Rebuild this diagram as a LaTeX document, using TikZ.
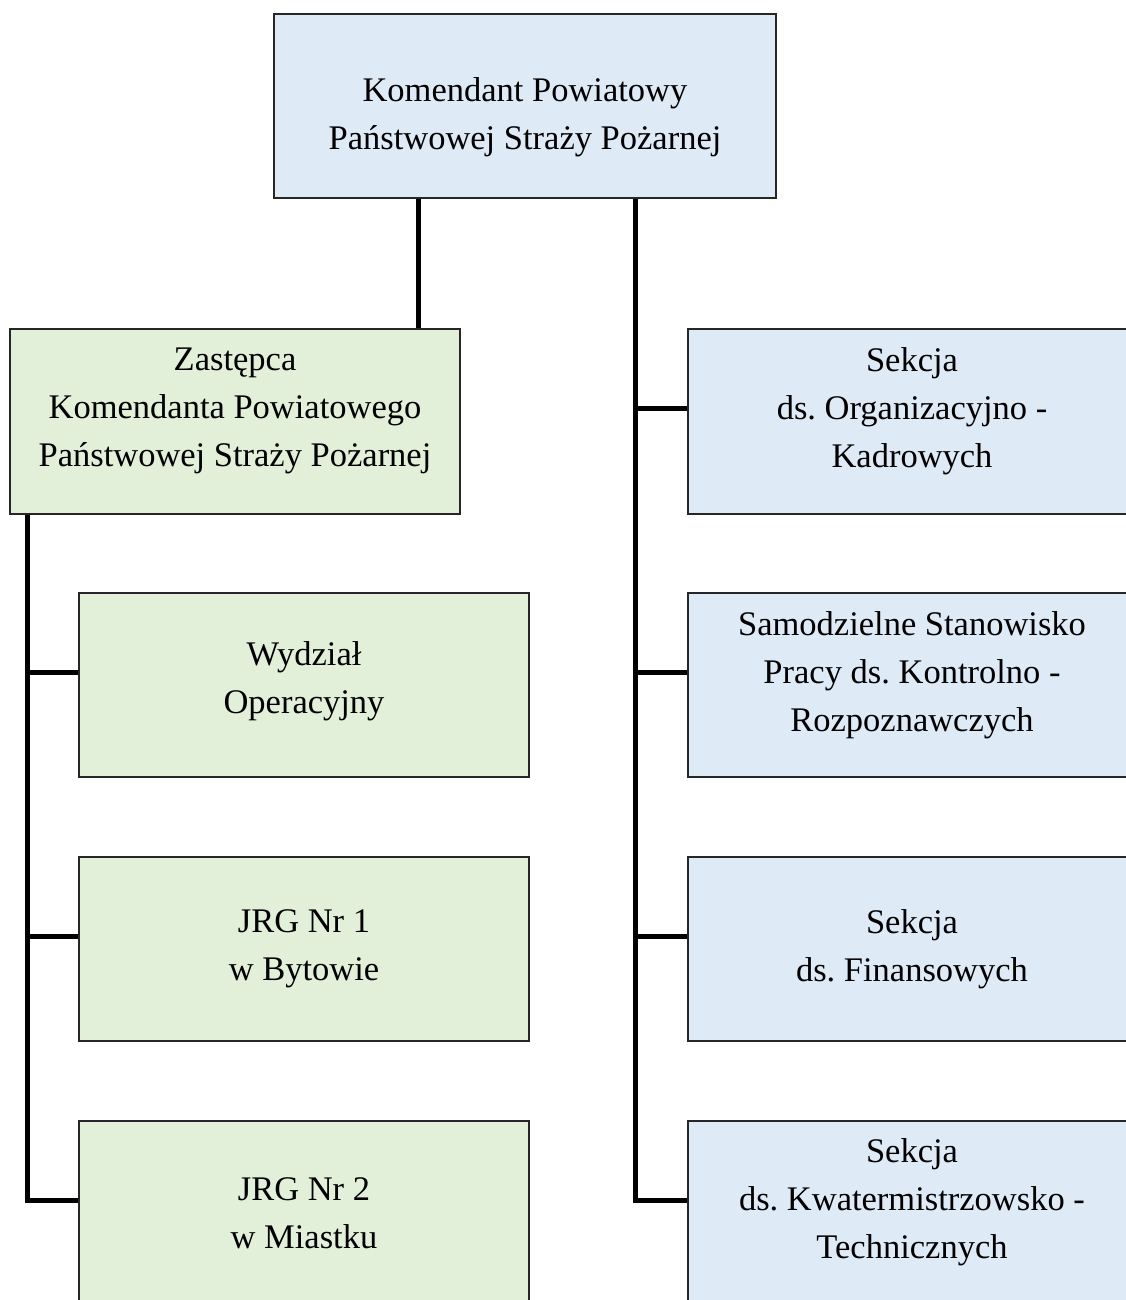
\documentclass[tikz,border=0pt]{standalone}
\usepackage{fontspec}
\setmainfont{Liberation Serif}
\usepackage{tikz}
\usetikzlibrary{calc}
\usetikzlibrary{positioning}
\definecolor{boxgreen}{HTML}{E2EFD9}
\definecolor{boxblue}{HTML}{DEEAF6}
\frenchspacing
\begin{document}
\begin{tikzpicture}[
    x=1pt, y=-1pt,
    box/.style={draw=black!85, line width=1.3pt, rectangle,
      minimum height=184pt, inner sep=0pt},
    greenbox/.style={box, fill=boxgreen, minimum width=450pt},
    bluebox/.style={box, fill=boxblue, minimum width=448pt},
    txt/.style={align=center, inner sep=0pt,
      font=\fontsize{34.5}{48}\selectfont},
    link/.style={line width=5pt, draw=black}
  ]

    \useasboundingbox (0, 0) rectangle (1126, 1300);
    \clip (0, 0) rectangle (1126, 1300);

    \node [box, fill=boxblue, minimum width=502pt] (kom) at (525, 106) {};
    \node [txt] (kom-t) at (525, 117)
      {Komendant Powiatowy\\Państwowej Straży Pożarnej};

    \node [greenbox, minimum height=185pt] (zast) at (235, 421.5) {};
    \node [txt] (zast-t) at (235, 411)
      {Zastępca\\Komendanta Powiatowego\\Państwowej Straży Pożarnej};

    \node [greenbox] (wydz) at (304, 685) {};
    \node [txt] (wydz-t) at (304, 681) {Wydział\\Operacyjny};
    \node [greenbox] (jrg1) at (304, 949) {};
    \node [txt] (jrg1-t) at (304, 949) {JRG Nr 1\\w Bytowie};
    \node [greenbox] (jrg2) at (304, 1213) {};
    \node [txt] (jrg2-t) at (304, 1213) {JRG Nr 2\\w Miastku};

    \node [bluebox, minimum height=185pt] (org) at (912, 421.5) {};
    \node [txt] (org-t) at (912, 411)
      {Sekcja\\ds. Organizacyjno -\\Kadrowych};
    \node [bluebox] (kontr) at (912, 685) {};
    \node [txt] (kontr-t) at (912, 675)
      {Samodzielne Stanowisko\\Pracy ds. Kontrolno -\\Rozpoznawczych};
    \node [bluebox] (fin) at (912, 949) {};
    \node [txt] (fin-t) at (912, 949) {Sekcja\\ds. Finansowych};
    \node [bluebox] (kwat) at (912, 1213) {};
    \node [txt] (kwat-t) at (912, 1202)
      {Sekcja\\ds. Kwatermistrzowsko -\\Technicznych};

    % trunks
    \coordinate (xz) at (418, 0);
    \coordinate (xr) at (635, 0);
    \coordinate (xl) at (27, 0);

    \draw [link] (kom.south -| xz) -- (zast.north -| xz);
    \draw [link] (kom.south -| xr) |- ([yshift=13pt]kwat.west);
    \foreach \n in {org, kontr, fin}
      \draw [link] ([yshift=13pt]\n.west) -- ([yshift=13pt]\n.west -| xr);

    \draw [link] (zast.south -| xl) |- ([yshift=13pt]jrg2.west);
    \foreach \n in {wydz, jrg1}
      \draw [link] ([yshift=13pt]\n.west) -- ([yshift=13pt]\n.west -| xl);

  \end{tikzpicture}
\end{document}
